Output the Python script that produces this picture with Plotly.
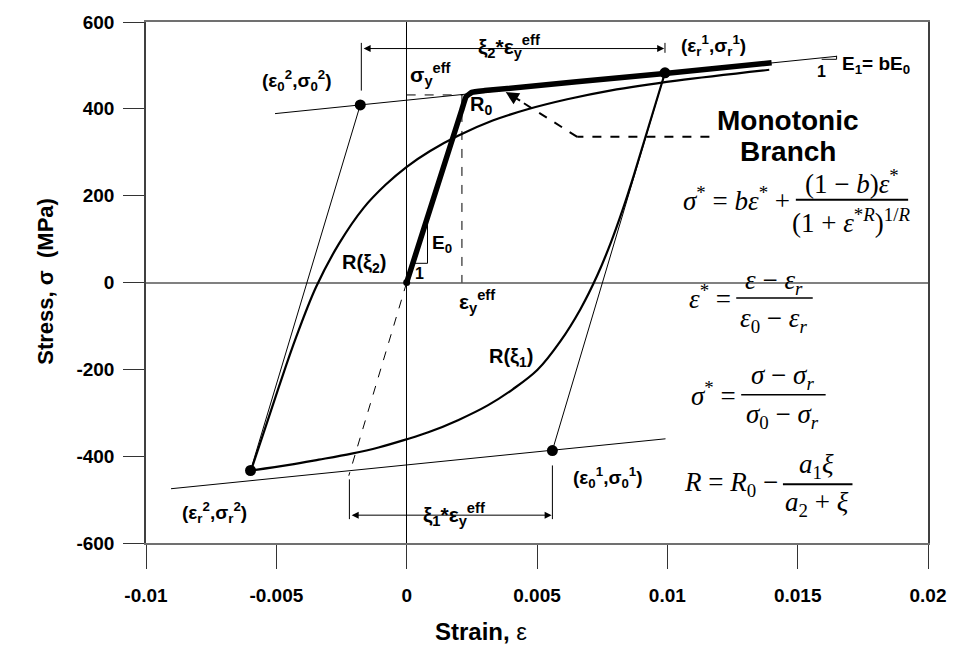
import plotly.graph_objects as go

# ---------------- data ----------------
x_ticks = [-0.01, -0.005, 0, 0.005, 0.01, 0.015, 0.02]
x_tick_text = ["-0.01", "-0.005", "0", "0.005", "0.01", "0.015", "0.02"]
y_ticks = [600, 400, 200, 0, -200, -400, -600]
y_tick_text = ["600", "400", "200", "0", "-200", "-400", "-600"]

# monotonic branch (thick)
mono_eps = [0.0, 0.0021, 0.00228, 0.0025, 0.0030, 0.0100, 0.0140]
mono_sig = [0, 395, 428, 438, 442, 482, 506]

# reloading branch R(xi2)
r2_eps = [-0.00597, -0.00546, -0.00489, -0.00424, -0.00348, -0.00260, -0.00165, -0.00081,
          -0.00001, 0.00090, 0.00197, 0.00330, 0.00464, 0.00616, 0.00780, 0.01036, 0.01391]
r2_sig = [-433, -341, -238, -126, -11, 89, 172, 225, 266, 303, 338, 373, 399, 422, 442, 465, 490]

# unloading branch R(xi1)
r1_eps = [0.00991, 0.00921, 0.00872, 0.00830, 0.00784, 0.00731, 0.00666, 0.00590, 0.00502,
          0.00407, 0.00311, 0.00197, 0.00083, -0.00005, -0.00108, -0.00211, -0.00337,
          -0.00451, -0.00597]
r1_sig = [483, 345, 248, 170, 93, 16, -62, -135, -201, -246, -283, -317, -345, -362, -380,
          -394, -408, -420, -433]

# asymptotes
upper_eps = [-0.00505, 0.0165]
upper_sig = [389, 521]
lower_eps = [-0.00904, 0.00993]
lower_sig = [-475, -360]

# elastic lines
el2_eps = [-0.00599, -0.00178]
el2_sig = [-433, 409]
el1_eps = [0.00991, 0.00559]
el1_sig = [483, -387]

# dashed guides
orig_eps = [0.0, -0.00222]
orig_sig = [0, -445]
sy_eps = [0.0, 0.00215]
sy_sig = [432, 432]
ey_eps = [0.00212, 0.00212]
ey_sig = [432, 0]

# key points
pt_eps = [-0.00178, 0.00991, -0.00599, 0.00559]
pt_sig = [409, 483, -433, -387]

# ---------------- geometry helpers (pixel -> data) ----------------
L, R_, T, B = 146, 25, 19, 124
W, H = 958, 667
PW, PH = W - L - R_, H - T - B


def dx(px):
    return -0.01 + (px - L) / PW * 0.03


def dy(py):
    return 600 - (py - T) / PH * 1200


fig = go.Figure()

def line(xs, ys, width=1, dash=None, color="black"):
    fig.add_trace(go.Scatter(x=xs, y=ys, mode="lines", showlegend=False, hoverinfo="skip",
                             line=dict(color=color, width=width, dash=dash)))

line(upper_eps, upper_sig, 1)
line(lower_eps, lower_sig, 1)
line(el2_eps, el2_sig, 1)
line(el1_eps, el1_sig, 1)
line(orig_eps, orig_sig, 1, "dash")
line(sy_eps, sy_sig, 1, "dash")
line(ey_eps, ey_sig, 1, "dash")
fig.add_trace(go.Scatter(x=r2_eps, y=r2_sig, mode="lines", showlegend=False, hoverinfo="skip",
                         line=dict(color="black", width=2.2, shape="spline", smoothing=1.0)))
fig.add_trace(go.Scatter(x=r1_eps, y=r1_sig, mode="lines", showlegend=False, hoverinfo="skip",
                         line=dict(color="black", width=2.2, shape="spline", smoothing=1.0)))
fig.add_trace(go.Scatter(x=mono_eps, y=mono_sig, mode="lines", showlegend=False, hoverinfo="skip",
                         line=dict(color="black", width=5.5, shape="spline", smoothing=0.3)))
fig.add_trace(go.Scatter(x=pt_eps, y=pt_sig, mode="markers", showlegend=False, hoverinfo="skip",
                         marker=dict(color="black", size=11)))
fig.add_trace(go.Scatter(x=[0], y=[0], mode="markers", showlegend=False, hoverinfo="skip",
                         marker=dict(color="black", size=7)))

shapes = []

def seg(x0, y0, x1, y1, width=1, dash=None):
    shapes.append(dict(type="line", xref="x", yref="y", x0=dx(x0), y0=dy(y0), x1=dx(x1), y1=dy(y1),
                       line=dict(color="black", width=width, dash=dash)))

# dimension ticks
seg(362.7, 40, 362.7, 88)
seg(668.3, 40, 668.3, 50)
seg(350.7, 479, 350.7, 519)
seg(555, 465, 555, 519)
# E0 slope triangle
seg(429.3, 223, 429.3, 261.7)
seg(416.7, 261.7, 429.3, 261.7)
# E1 slope triangle
seg(826, 56.5, 841, 56.5)
seg(841, 53, 841, 56.5)
# monotonic pointer (dashed)
seg(713, 134.5, 580, 134.5, 2, "dash")
seg(580, 134.5, 522, 98, 2, "dash")
# fraction bars
seg(800, 197.7, 913, 197.7, 2)
seg(740, 296.7, 817, 296.7, 1.5)
seg(745, 394, 830, 394, 1.5)
seg(787, 484, 857, 484, 2)

ann = []
SANS = "Liberation Sans, Arial, sans-serif"
NARROW = "Liberation Sans Narrow, Arial Narrow, " + SANS
SERIF = "Liberation Serif, Times New Roman, serif"

def text(px, py, s, size=19, family=SANS, xanchor="center", bg=None, weight="bold"):
    d = dict(x=dx(px), y=dy(py), xref="x", yref="y", text=s, showarrow=False,
             xanchor=xanchor, yanchor="middle",
             font=dict(family=family, size=size, color="black", weight=weight))
    if bg:
        d["bgcolor"] = bg
    ann.append(d)

text(298, 78, "(ε<sub>0</sub><sup>2</sup>,σ<sub>0</sub><sup>2</sup>)")
text(717, 43, "(ε<sub>r</sub><sup>1</sup>,σ<sub>r</sub><sup>1</sup>)")
text(611, 477, "(ε<sub>0</sub><sup>1</sup>,σ<sub>0</sub><sup>1</sup>)")
text(215, 512, "(ε<sub>r</sub><sup>2</sup>,σ<sub>r</sub><sup>2</sup>)")
text(881, 62, "E<sub>1</sub>= bE<sub>0</sub>", 19)
text(826, 69, "1", 16)
text(432, 72, "σ<sub>y</sub><sup>eff</sup>", 21)
text(483, 103, "R<sub>0</sub>", 20)
text(792, 118, "Monotonic", 28)
text(792, 149, "Branch", 28)
text(365, 262, "R(ξ<sub>2</sub>)", 20)
text(513, 356, "R(ξ<sub>1</sub>)", 20)
text(444, 242, "E<sub>0</sub>", 19)
text(421, 272, "1", 16)
text(479, 300, "ε<sub>y</sub><sup>eff</sup>", 21)
text(511, 44, "ξ<sub>2</sub>*ε<sub>y</sub><sup>eff</sup>", 21, bg="white")
text(456, 514, "ξ<sub>1</sub>*ε<sub>y</sub><sup>eff</sup>", 21, bg="white")

# equations
EQ = 27
text(796, 197, "<i>σ</i><sup>*</sup> = <i>bε</i><sup>*</sup> +", EQ, SERIF, "right", weight="normal")
text(857, 180, "(1 − <i>b</i>)<i>ε</i><sup>*</sup>", EQ, SERIF, weight="normal")
text(856, 219, "(1 + <i>ε</i><sup>*<i>R</i></sup>)<sup>1/<i>R</i></sup>", EQ, SERIF, weight="normal")
text(737, 296, "<i>ε</i><sup>*</sup> =", EQ, SERIF, "right", weight="normal")
text(778, 280, "<i>ε</i> − <i>ε</i><sub><i>r</i></sub>", EQ, SERIF, weight="normal")
text(778, 319, "<i>ε</i><sub>0</sub> − <i>ε</i><sub><i>r</i></sub>", EQ, SERIF, weight="normal")
text(742, 393, "<i>σ</i><sup>*</sup> =", EQ, SERIF, "right", weight="normal")
text(787, 376, "<i>σ</i> − <i>σ</i><sub><i>r</i></sub>", EQ, SERIF, weight="normal")
text(787, 415, "<i>σ</i><sub>0</sub> − <i>σ</i><sub><i>r</i></sub>", EQ, SERIF, weight="normal")
text(784, 484, "<i>R</i> = <i>R</i><sub>0</sub> −", EQ, SERIF, "right", weight="normal")
text(821, 466, "<i>a</i><sub>1</sub><i>ξ</i>", EQ, SERIF, weight="normal")
text(821, 504, "<i>a</i><sub>2</sub> + <i>ξ</i>", EQ, SERIF, weight="normal")

# arrows
def arrow(x0, y0, x1, y1, both=False, size=1.0, width=1):
    ann.append(dict(x=dx(x1), y=dy(y1), ax=dx(x0), ay=dy(y0), xref="x", yref="y",
                    axref="x", ayref="y", text="", showarrow=True, arrowhead=2,
                    arrowsize=size, arrowwidth=width, arrowcolor="black",
                    arrowside="end+start" if both else "end"))

arrow(363.5, 45.7, 667.5, 45.7, both=True, size=1.4)
arrow(351.5, 515, 554.2, 515, both=True, size=1.4)
arrow(524, 99, 508, 89.5, size=1.3, width=2)

# axis titles
ann.append(dict(x=(30 - L) / PW, y=(H - B - 280) / PH, xref="paper", yref="paper",
                text="<b>Stress, σ  (MPa)</b>", showarrow=False, textangle=-90,
                font=dict(family=SANS, size=22, color="black")))
ann.append(dict(x=(483 - L) / PW, y=(H - B - 648) / PH, xref="paper", yref="paper",
                text="<b>Strain, </b>ε", showarrow=False,
                font=dict(family=NARROW, size=24, color="black")))

fig.update_layout(
    width=W, height=H,
    margin=dict(l=L, r=R_, t=T, b=B),
    paper_bgcolor="white", plot_bgcolor="white",
    shapes=shapes, annotations=ann,
    xaxis=dict(range=[-0.01, 0.02], tickvals=x_ticks, ticktext=x_tick_text,
               showgrid=False, zeroline=True, zerolinecolor="black", zerolinewidth=1,
               showline=True, linecolor="#707070", linewidth=1.5, mirror=True,
               ticks="outside", ticklen=24, tickcolor="#333", tickwidth=1,
               ticklabelstandoff=10,
               tickfont=dict(family=NARROW, size=19, color="black", weight="bold")),
    yaxis=dict(range=[-600, 600], tickvals=y_ticks, ticktext=y_tick_text,
               showgrid=False, zeroline=True, zerolinecolor="#808080", zerolinewidth=1.5,
               showline=True, linecolor="#404040", linewidth=1.5, mirror=True,
               ticks="outside", ticklen=21, tickcolor="#333", tickwidth=1,
               ticklabelstandoff=5,
               tickfont=dict(family=SANS, size=19, color="black", weight="bold")),
)

fig.write_html("out.html")
